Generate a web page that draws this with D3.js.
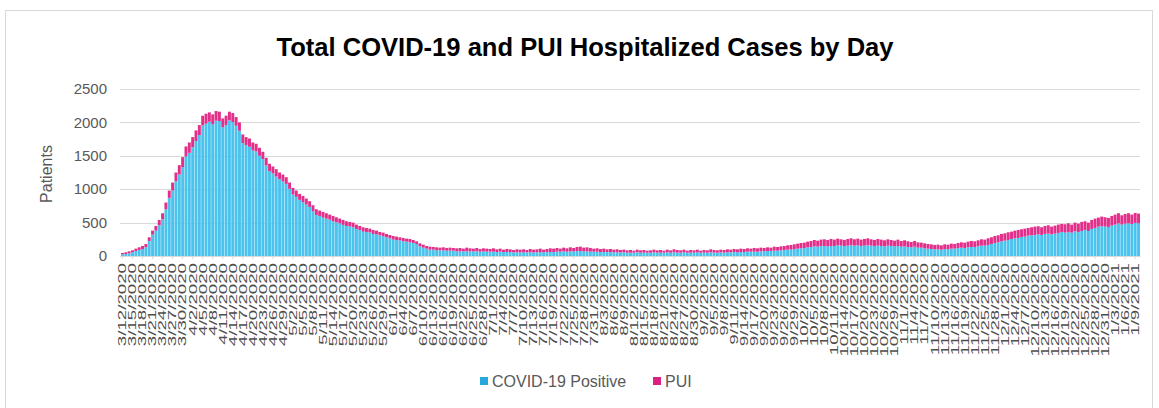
<!DOCTYPE html>
<html>
<head>
<meta charset="utf-8">
<script src="https://cdn.jsdelivr.net/npm/d3@7"></script>
<style>
  body { margin: 0; background: #fff; }
  text { font-family: "Liberation Sans", Arial, sans-serif; }
</style>
</head>
<body>
<svg id="chart" width="1159" height="408"></svg>
<script>
// daily values, 3/12/2020 .. 1/10/2021
const startDate = new Date(2020, 2, 12);

const positive = [
  25, 30, 40, 57, 75, 90, 105, 130, 225, 320,
  380, 460, 550, 700, 870, 980, 1120, 1220, 1330, 1490,
  1545, 1630, 1720, 1810, 1955, 1980, 2010, 1970, 2025, 2020,
  1925, 1960, 2030, 2005, 1950, 1875, 1690, 1660, 1635, 1580,
  1565, 1500, 1450, 1355, 1270, 1235, 1190, 1150, 1115, 1080,
  1005, 920, 885, 840, 805, 770, 735, 670, 615, 600,
  575, 560, 545, 520, 505, 490, 465, 450, 445, 430,
  405, 390, 365, 360, 355, 330, 325, 310, 295, 280,
  265, 245, 240, 235, 220, 215, 205, 195, 180, 145,
  125, 110, 95, 95, 85, 85, 85, 80, 80, 80,
  70, 70, 70, 70, 70, 70, 70, 65, 70, 65,
  65, 65, 60, 65, 60, 60, 60, 55, 55, 55,
  55, 55, 55, 55, 55, 60, 55, 60, 60, 60,
  65, 65, 70, 65, 70, 70, 75, 75, 70, 70,
  65, 65, 65, 60, 60, 60, 60, 55, 55, 55,
  55, 50, 50, 50, 55, 50, 50, 50, 50, 55,
  50, 50, 50, 55, 50, 55, 50, 50, 55, 50,
  50, 50, 55, 50, 50, 50, 55, 50, 50, 55,
  50, 55, 55, 60, 55, 60, 60, 65, 65, 65,
  65, 70, 70, 75, 75, 80, 80, 85, 90, 95,
  95, 105, 110, 115, 120, 130, 135, 145, 140, 150,
  150, 145, 150, 150, 160, 155, 150, 155, 160, 155,
  160, 150, 155, 160, 155, 150, 155, 150, 145, 155,
  150, 145, 150, 140, 145, 135, 130, 140, 125, 125,
  115, 110, 105, 100, 100, 95, 105, 100, 110, 110,
  120, 125, 120, 130, 135, 135, 145, 155, 155, 165,
  180, 195, 205, 220, 230, 240, 255, 265, 270, 285,
  290, 305, 310, 315, 325, 315, 330, 335, 325, 335,
  345, 360, 350, 360, 350, 370, 360, 375, 390, 375,
  405, 420, 440, 445, 440, 435, 455, 470, 490, 470,
  485, 490, 480, 495, 490
];

const pui = [
  20, 25, 30, 28, 35, 40, 45, 50, 55, 60,
  70, 80, 90, 100, 110, 120, 130, 140, 150, 150,
  155, 150, 160, 150, 145, 150, 140, 150, 145, 140,
  135, 140, 130, 135, 130, 125, 130, 120, 125, 120,
  115, 120, 110, 115, 110, 105, 110, 100, 105, 100,
  95, 100, 95, 90, 95, 90, 85, 90, 85, 80,
  85, 80, 75, 80, 75, 70, 75, 70, 65, 70,
  65, 60, 65, 60, 55, 60, 55, 50, 55, 50,
  50, 55, 50, 45, 50, 45, 50, 45, 40, 45,
  45, 40, 45, 40, 45, 40, 45, 40, 45, 40,
  45, 50, 40, 55, 45, 40, 50, 40, 45, 45,
  40, 50, 40, 45, 35, 45, 40, 35, 45, 40,
  45, 35, 50, 40, 45, 50, 40, 45, 55, 50,
  55, 45, 55, 50, 60, 50, 60, 65, 55, 60,
  55, 45, 50, 45, 50, 40, 45, 40, 45, 35,
  40, 35, 40, 30, 40, 35, 40, 30, 35, 40,
  35, 40, 30, 40, 35, 45, 40, 35, 40, 30,
  40, 35, 40, 30, 40, 35, 45, 40, 35, 40,
  40, 45, 40, 45, 45, 50, 45, 50, 45, 55,
  50, 55, 50, 55, 50, 60, 55, 60, 60, 65,
  70, 70, 75, 80, 80, 85, 90, 95, 90, 95,
  100, 95, 105, 95, 100, 95, 90, 100, 105, 95,
  100, 95, 100, 105, 95, 90, 100, 95, 90, 95,
  90, 85, 95, 85, 90, 85, 80, 85, 80, 75,
  75, 70, 70, 65, 70, 65, 70, 70, 75, 70,
  75, 80, 80, 85, 90, 85, 90, 95, 90, 100,
  100, 105, 105, 110, 110, 115, 110, 115, 120, 115,
  120, 115, 120, 125, 120, 115, 120, 125, 115, 120,
  125, 120, 125, 130, 120, 130, 125, 135, 130, 125,
  135, 140, 135, 145, 140, 135, 145, 150, 150, 140,
  145, 150, 140, 150, 145
];

const yTicks = [0, 500, 1000, 1500, 2000, 2500];
const seriesKeys = ["COVID-19 Positive", "PUI"];
const seriesColors = ["#4cc3ec", "#e2308a"];
const legendColors = ["#27a8db", "#d9217f"];
const titleText = "Total COVID-19 and PUI Hospitalized Cases by Day";
const yTitle = "Patients";

const fmt = d3.timeFormat("%-m/%-d/%Y");
const dates = positive.map((_, i) => fmt(d3.timeDay.offset(startDate, i)));
const rows = dates.map((d, i) => ({ date: d, "COVID-19 Positive": positive[i], "PUI": pui[i] }));

const svg = d3.select("#chart");

// outer frame
svg.append("rect")
  .attr("x", 5.5).attr("y", 10.5)
  .attr("width", 1147).attr("height", 400)
  .attr("fill", "none").attr("stroke", "#d9d9d9");

const x = d3.scaleBand().domain(dates).range([121, 1140]).paddingInner(0.12);
const y = d3.scaleLinear().domain([0, 2500]).range([256, 89]);

// gridlines
svg.append("g")
  .selectAll("line")
  .data(yTicks)
  .join("line")
  .attr("x1", 120).attr("x2", 1140)
  .attr("y1", d => Math.round(y(d)) + 0.5).attr("y2", d => Math.round(y(d)) + 0.5)
  .attr("stroke", "#d9d9d9");

// y axis labels
svg.append("g")
  .selectAll("text")
  .data(yTicks)
  .join("text")
  .attr("x", 107).attr("y", d => y(d))
  .attr("dy", "0.35em")
  .attr("text-anchor", "end")
  .attr("fill", "#595959")
  .style("font-size", "15px")
  .text(d => d);

svg.append("text")
  .attr("transform", "translate(52,174) rotate(-90)")
  .attr("text-anchor", "middle")
  .attr("fill", "#595959")
  .style("font-size", "16px")
  .text(yTitle);

// stacked bars
const stacked = d3.stack().keys(seriesKeys)(rows);
svg.append("g")
  .selectAll("g")
  .data(stacked)
  .join("g")
  .attr("fill", (d, i) => seriesColors[i])
  .selectAll("rect")
  .data(d => d)
  .join("rect")
  .attr("x", d => x(d.data.date))
  .attr("width", x.bandwidth())
  .attr("y", d => y(d[1]))
  .attr("height", d => y(d[0]) - y(d[1]));

// x axis
const xAxis = d3.axisBottom(x)
  .tickValues(dates.filter((d, i) => i % 3 === 0))
  .tickSize(3)
  .tickSizeOuter(0);

const gx = svg.append("g")
  .attr("transform", "translate(0,256)")
  .call(xAxis);
gx.select(".domain").attr("stroke", "#d9d9d9");
gx.selectAll(".tick line").attr("stroke", "#d9d9d9");
gx.selectAll(".tick text")
  .attr("fill", "#4d4d4d")
  .style("font-size", "11px")
  .attr("y", 0)
  .attr("x", 0)
  .attr("dy", "0.35em")
  .attr("transform", "translate(0,7) rotate(-90) scale(1.7,1)")
  .style("text-anchor", "end");

// title
svg.append("text")
  .attr("x", 585).attr("y", 56)
  .attr("text-anchor", "middle")
  .attr("fill", "#000")
  .attr("textLength", 617)
  .attr("lengthAdjust", "spacingAndGlyphs")
  .style("font-size", "26px")
  .style("font-weight", "bold")
  .text(titleText);

// legend
const legend = svg.append("g").attr("transform", "translate(480,381)");
const legendX = [0, 173];
seriesKeys.forEach((k, i) => {
  const g = legend.append("g").attr("transform", `translate(${legendX[i]},0)`);
  g.append("rect").attr("x", 0).attr("y", -4).attr("width", 8).attr("height", 8).attr("fill", legendColors[i]);
  g.append("text").attr("x", 12).attr("y", 0).attr("dy", "0.35em")
    .attr("fill", "#595959").style("font-size", "16px").text(k);
});
</script>
</body>
</html>
